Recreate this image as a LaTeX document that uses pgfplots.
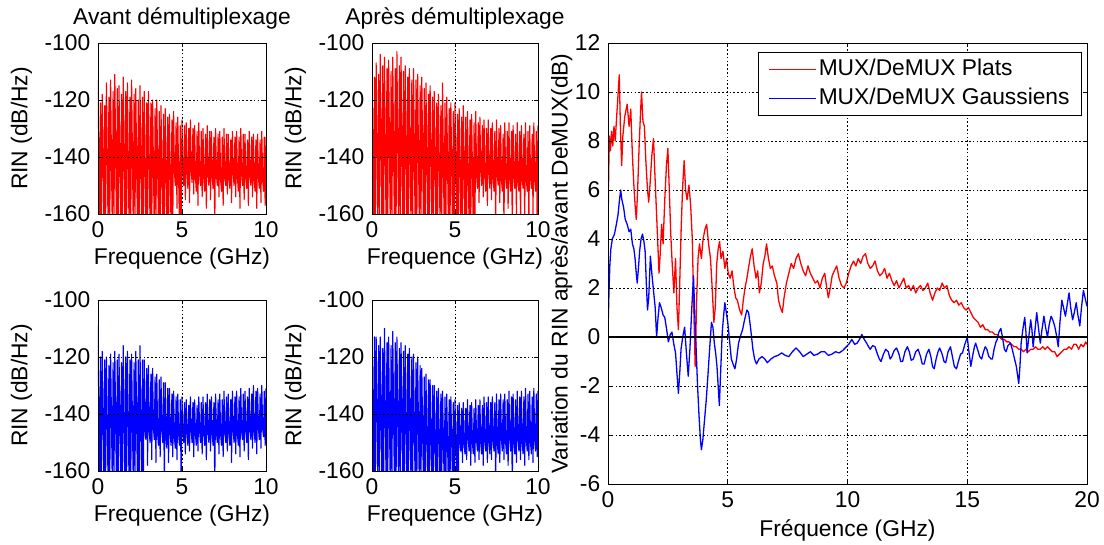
\documentclass[border=0pt]{standalone}
\usepackage{fontspec}
\setmainfont{Liberation Sans}
\usepackage{pgfplots}
\usepackage{pgfplotstable}
\pgfplotsset{compat=1.18}

% ---- small spectra: one value every 0.05 GHz (0 .. 10 GHz) ----
\pgfplotstableread[row sep=\\, header=false]{
-113\\ -138\\ -165\\ -121\\ -165\\
-118\\ -140\\ -165\\ -122\\ -165\\
-114\\ -139\\ -165\\ -119\\ -165\\
-113\\ -141\\ -165\\ -117\\ -165\\
-111\\ -138\\ -165\\ -116\\ -165\\
-115\\ -140\\ -165\\ -118\\ -165\\
-112\\ -139\\ -165\\ -117\\ -165\\
-114\\ -142\\ -165\\ -119\\ -165\\
-113\\ -140\\ -165\\ -118\\ -165\\
-116\\ -143\\ -165\\ -120\\ -165\\
-115\\ -141\\ -165\\ -119\\ -165\\
-117\\ -144\\ -165\\ -121\\ -165\\
-117\\ -142\\ -165\\ -121\\ -165\\
-120\\ -144\\ -165\\ -123\\ -165\\
-120\\ -143\\ -165\\ -124\\ -165\\
-122\\ -145\\ -165\\ -125\\ -165\\
-123\\ -144\\ -165\\ -126\\ -165\\
-125\\ -146\\ -165\\ -127\\ -165\\
-124\\ -145\\ -150\\ -128\\ -158\\
-126\\ -147\\ -165\\ -129\\ -165\\
-127\\ -145\\ -150\\ -129\\ -155\\
-128\\ -146\\ -151\\ -130\\ -156\\
-127\\ -145\\ -149\\ -130\\ -153\\
-129\\ -147\\ -152\\ -131\\ -157\\
-128\\ -146\\ -150\\ -131\\ -154\\
-130\\ -148\\ -152\\ -132\\ -158\\
-129\\ -146\\ -150\\ -131\\ -155\\
-131\\ -147\\ -151\\ -133\\ -165\\
-130\\ -146\\ -150\\ -132\\ -154\\
-131\\ -148\\ -152\\ -133\\ -157\\
-130\\ -147\\ -150\\ -132\\ -153\\
-132\\ -148\\ -151\\ -134\\ -156\\
-131\\ -146\\ -150\\ -133\\ -154\\
-131\\ -147\\ -152\\ -133\\ -158\\
-130\\ -146\\ -150\\ -132\\ -155\\
-132\\ -148\\ -151\\ -134\\ -157\\
-131\\ -147\\ -150\\ -133\\ -154\\
-132\\ -148\\ -152\\ -134\\ -158\\
-132\\ -147\\ -151\\ -134\\ -156\\
-131\\ -148\\ -152\\ -133\\ -157\\
-133\\
}\TLdata

\pgfplotstableread[row sep=\\, header=false]{
-110\\ -135\\ -165\\ -112\\ -165\\
-107\\ -136\\ -165\\ -111\\ -165\\
-104\\ -134\\ -165\\ -108\\ -165\\
-105\\ -136\\ -165\\ -109\\ -165\\
-106\\ -135\\ -165\\ -110\\ -165\\
-105\\ -137\\ -165\\ -109\\ -165\\
-103\\ -135\\ -165\\ -108\\ -165\\
-105\\ -137\\ -165\\ -110\\ -165\\
-108\\ -136\\ -165\\ -112\\ -165\\
-109\\ -138\\ -165\\ -113\\ -165\\
-109\\ -137\\ -165\\ -113\\ -165\\
-111\\ -139\\ -165\\ -115\\ -165\\
-112\\ -138\\ -165\\ -116\\ -165\\
-114\\ -140\\ -165\\ -118\\ -165\\
-115\\ -139\\ -165\\ -119\\ -165\\
-117\\ -141\\ -165\\ -121\\ -165\\
-118\\ -140\\ -165\\ -122\\ -165\\
-114\\ -142\\ -165\\ -121\\ -165\\
-119\\ -141\\ -165\\ -123\\ -165\\
-121\\ -143\\ -165\\ -124\\ -165\\
-121\\ -142\\ -165\\ -125\\ -165\\
-123\\ -144\\ -165\\ -126\\ -165\\
-122\\ -143\\ -165\\ -126\\ -165\\
-124\\ -145\\ -165\\ -127\\ -165\\
-125\\ -144\\ -165\\ -128\\ -165\\
-124\\ -146\\ -151\\ -128\\ -156\\
-126\\ -145\\ -150\\ -129\\ -154\\
-127\\ -147\\ -152\\ -130\\ -157\\
-127\\ -146\\ -151\\ -130\\ -155\\
-128\\ -147\\ -152\\ -131\\ -165\\
-127\\ -146\\ -150\\ -130\\ -156\\
-129\\ -148\\ -152\\ -132\\ -165\\
-128\\ -147\\ -151\\ -131\\ -158\\
-128\\ -148\\ -152\\ -131\\ -165\\
-129\\ -147\\ -151\\ -132\\ -160\\
-128\\ -148\\ -152\\ -131\\ -165\\
-129\\ -147\\ -151\\ -132\\ -162\\
-128\\ -148\\ -152\\ -131\\ -165\\
-129\\ -147\\ -151\\ -132\\ -160\\
-128\\ -148\\ -152\\ -131\\ -165\\
-129\\
}\TRdata

\pgfplotstableread[row sep=\\, header=false]{
-109\\ -140\\ -165\\ -120\\ -165\\
-118\\ -141\\ -165\\ -121\\ -165\\
-120\\ -142\\ -165\\ -123\\ -165\\
-119\\ -141\\ -165\\ -122\\ -165\\
-118\\ -142\\ -165\\ -121\\ -165\\
-119\\ -141\\ -165\\ -122\\ -165\\
-116\\ -143\\ -165\\ -120\\ -165\\
-118\\ -142\\ -165\\ -121\\ -165\\
-119\\ -143\\ -165\\ -122\\ -165\\
-118\\ -142\\ -165\\ -121\\ -165\\
-116\\ -144\\ -165\\ -121\\ -165\\
-121\\ -145\\ -149\\ -124\\ -158\\
-123\\ -146\\ -150\\ -126\\ -156\\
-124\\ -145\\ -149\\ -127\\ -157\\
-126\\ -147\\ -151\\ -128\\ -155\\
-127\\ -146\\ -150\\ -129\\ -165\\
-129\\ -148\\ -152\\ -131\\ -157\\
-131\\ -147\\ -151\\ -133\\ -155\\
-132\\ -148\\ -152\\ -134\\ -156\\
-133\\ -147\\ -151\\ -135\\ -165\\
-134\\ -146\\ -150\\ -136\\ -154\\
-135\\ -147\\ -151\\ -137\\ -153\\
-134\\ -146\\ -150\\ -136\\ -155\\
-135\\ -147\\ -151\\ -137\\ -153\\
-134\\ -146\\ -150\\ -136\\ -154\\
-134\\ -147\\ -151\\ -136\\ -156\\
-133\\ -146\\ -150\\ -135\\ -153\\
-134\\ -147\\ -151\\ -136\\ -165\\
-133\\ -146\\ -150\\ -135\\ -154\\
-133\\ -147\\ -151\\ -135\\ -155\\
-132\\ -146\\ -150\\ -134\\ -153\\
-133\\ -147\\ -151\\ -135\\ -157\\
-132\\ -146\\ -150\\ -134\\ -154\\
-132\\ -147\\ -151\\ -134\\ -155\\
-131\\ -146\\ -149\\ -133\\ -153\\
-132\\ -146\\ -150\\ -134\\ -156\\
-131\\ -145\\ -149\\ -133\\ -152\\
-130\\ -146\\ -150\\ -132\\ -154\\
-131\\ -145\\ -149\\ -133\\ -152\\
-130\\ -145\\ -148\\ -132\\ -151\\
-131\\
}\BLdata

\pgfplotstableread[row sep=\\, header=false]{
-103\\ -138\\ -165\\ -113\\ -165\\
-113\\ -139\\ -165\\ -116\\ -165\\
-113\\ -140\\ -165\\ -117\\ -165\\
-110\\ -139\\ -165\\ -115\\ -165\\
-113\\ -141\\ -165\\ -116\\ -165\\
-111\\ -140\\ -165\\ -115\\ -165\\
-113\\ -142\\ -165\\ -117\\ -165\\
-115\\ -141\\ -165\\ -118\\ -165\\
-116\\ -143\\ -165\\ -119\\ -165\\
-117\\ -142\\ -165\\ -120\\ -165\\
-119\\ -144\\ -165\\ -122\\ -165\\
-120\\ -145\\ -165\\ -123\\ -165\\
-124\\ -146\\ -165\\ -127\\ -165\\
-126\\ -147\\ -165\\ -128\\ -165\\
-128\\ -148\\ -165\\ -130\\ -165\\
-130\\ -149\\ -165\\ -132\\ -165\\
-131\\ -148\\ -165\\ -133\\ -165\\
-132\\ -149\\ -165\\ -134\\ -165\\
-133\\ -150\\ -165\\ -135\\ -165\\
-134\\ -149\\ -165\\ -136\\ -165\\
-135\\ -150\\ -165\\ -137\\ -165\\
-136\\ -149\\ -153\\ -138\\ -157\\
-136\\ -150\\ -154\\ -138\\ -156\\
-135\\ -149\\ -153\\ -137\\ -158\\
-136\\ -150\\ -154\\ -138\\ -157\\
-135\\ -149\\ -153\\ -137\\ -156\\
-135\\ -150\\ -154\\ -137\\ -158\\
-134\\ -149\\ -153\\ -136\\ -157\\
-134\\ -150\\ -154\\ -136\\ -156\\
-134\\ -149\\ -153\\ -136\\ -165\\
-133\\ -150\\ -154\\ -135\\ -157\\
-133\\ -149\\ -153\\ -135\\ -156\\
-133\\ -150\\ -154\\ -135\\ -158\\
-132\\ -149\\ -153\\ -134\\ -165\\
-133\\ -150\\ -154\\ -135\\ -157\\
-132\\ -149\\ -153\\ -134\\ -156\\
-132\\ -150\\ -154\\ -134\\ -158\\
-131\\ -149\\ -153\\ -133\\ -156\\
-132\\ -150\\ -154\\ -134\\ -157\\
-131\\ -149\\ -153\\ -133\\ -155\\
-132\\
}\BRdata

\pgfplotsset{
  matlabgrid/.style={
    grid=major,
    major grid style={black, line width=0.6pt, dash pattern=on 1.6pt off 2.2pt},
    tick align=inside, major tick length=4pt,
    tick style={black, line width=0.6pt},
    axis line style={black, line width=0.8pt},
    axis on top,
    clip=true,
  },
  smallax/.style={
    matlabgrid,
    scale only axis, width=168pt, height=171pt,
    xmin=0, xmax=10, ymin=-160, ymax=-100,
    xtick={0,5,10}, xticklabels={0,5,10},
    ytick={-160,-140,-120,-100}, yticklabels={-160,-140,-120,-100},
    xlabel={Frequence (GHz)}, ylabel={RIN (dB/Hz)},
    xlabel style={yshift=5pt},
    ylabel style={yshift=-3pt},
    title style={yshift=0pt},
  },
}

\begin{document}
\fontsize{22.8}{27}\selectfont
\begin{tikzpicture}
\useasboundingbox (0pt,0pt) rectangle (1104pt,544pt);

% top left
\begin{axis}[smallax, at={(98pt,330pt)}, anchor=south west, title={Avant démultiplexage}]
\addplot[red, line width=1.15pt, line join=round] table[x expr=\coordindex*0.05, y index=0] {\TLdata};
\end{axis}

% top right
\begin{axis}[smallax, width=166pt, at={(372pt,330pt)}, anchor=south west, title={Après démultiplexage}]
\addplot[red, line width=1.15pt, line join=round] table[x expr=\coordindex*0.05, y index=0] {\TRdata};
\end{axis}

% bottom left
\begin{axis}[smallax, at={(98pt,73pt)}, anchor=south west]
\addplot[blue, line width=1.15pt, line join=round] table[x expr=\coordindex*0.05, y index=0] {\BLdata};
\end{axis}

% bottom right
\begin{axis}[smallax, width=166pt, at={(372pt,73pt)}, anchor=south west]
\addplot[blue, line width=1.15pt, line join=round] table[x expr=\coordindex*0.05, y index=0] {\BRdata};
\end{axis}

% big axis
\begin{axis}[matlabgrid,
  scale only axis, width=479pt, height=441pt,
  at={(608pt,60pt)}, anchor=south west,
  xmin=0, xmax=20, ymin=-6, ymax=12,
  xtick={0,5,10,15,20}, xticklabels={0,5,10,15,20},
  ytick={-6,-4,-2,0,2,4,6,8,10,12}, yticklabels={-6,-4,-2,0,2,4,6,8,10,12},
  xlabel={Fréquence (GHz)},
  xlabel style={yshift=4pt},
  ylabel={Variation du RIN après/avant DeMUX(dB)},
  ylabel shift=-13pt,
  legend style={at={(0.9896,0.9796)}, anchor=north east, draw=black, line width=0.8pt,
    fill=white, inner xsep=10pt, inner ysep=5pt, row sep=5pt,
    nodes={inner sep=2pt}},
  legend cell align=left,
  legend image code/.code={\draw[#1] (0pt,0pt) -- (47pt,0pt);},
]
\addplot[red, line width=1.3pt, line join=round] coordinates {
(0,4.2) (0.03,6.8) (0.06,8.2) (0.1,7.6) (0.15,8.4) (0.2,7.8) (0.25,8.6) (0.3,8.0) (0.35,8.8) (0.4,9.6)
(0.47,10.7) (0.52,8.5) (0.57,7.0) (0.62,8.2) (0.7,9.0) (0.8,9.5) (0.88,8.6) (0.95,9.3) (1.02,7.4) (1.08,6.2)
(1.13,5.4) (1.18,4.8) (1.23,5.8) (1.3,7.8) (1.36,9.2) (1.4,10.0) (1.46,8.8) (1.52,8.6) (1.58,7.2) (1.65,6.0)
(1.7,5.5) (1.76,6.3) (1.83,7.4) (1.9,8.1) (1.96,6.6) (2.02,5.2) (2.08,3.8) (2.13,2.6) (2.18,3.4) (2.24,4.6)
(2.3,3.8) (2.37,5.6) (2.44,7.0) (2.5,7.7) (2.56,6.0) (2.62,4.2) (2.68,3.0) (2.75,1.8) (2.82,3.2) (2.88,1.2)
(2.94,0.3) (3.0,2.4) (3.06,4.6) (3.12,6.2) (3.18,7.2) (3.24,6.0) (3.3,5.6) (3.38,6.2) (3.45,5.4) (3.52,4.0)
(3.58,1.2) (3.64,-1.2) (3.7,1.5) (3.76,3.2) (3.82,3.8) (3.9,3.2) (3.97,4.0) (4.05,4.4) (4.12,4.6) (4.2,3.8)
(4.28,3.2) (4.35,2.0) (4.42,0.6) (4.48,1.2) (4.54,3.0) (4.6,3.6) (4.66,3.9) (4.72,3.2) (4.8,3.5) (4.88,2.8)
(4.95,3.2) (5.02,2.6) (5.1,2.4) (5.18,2.7) (5.25,2.1) (5.33,1.6) (5.4,1.5) (5.5,1.1) (5.58,0.9) (5.65,1.5)
(5.72,2.0) (5.8,2.4) (5.88,2.9) (5.95,3.3) (6.02,3.6) (6.1,2.9) (6.18,2.4) (6.25,2.7) (6.32,1.8) (6.4,2.2)
(6.48,3.0) (6.55,3.3) (6.62,3.8) (6.7,3.2) (6.78,2.8) (6.86,2.9) (6.95,2.5) (7.05,2.2) (7.12,1.5) (7.2,1.2)
(7.28,1.0) (7.35,1.6) (7.45,2.2) (7.55,2.6) (7.65,3.0) (7.75,2.8) (7.85,3.2) (7.95,3.4) (8.05,3.0) (8.15,2.7)
(8.25,2.5) (8.35,2.9) (8.45,2.6) (8.55,2.4) (8.65,2.2) (8.75,2.3) (8.85,2.0) (8.95,2.4) (9.05,2.6) (9.12,2.1)
(9.2,1.6) (9.28,2.0) (9.36,2.5) (9.45,2.7) (9.55,2.9) (9.65,2.4) (9.75,2.1) (9.85,2.0) (9.95,2.2) (10.05,2.6)
(10.15,2.9) (10.25,3.1) (10.35,2.9) (10.45,3.2) (10.55,3.0) (10.65,3.3) (10.75,3.4) (10.85,3.0) (10.95,2.8) (11.05,2.9)
(11.15,3.1) (11.25,2.7) (11.35,2.5) (11.45,2.6) (11.55,2.8) (11.65,2.4) (11.75,2.6) (11.85,2.3) (11.95,2.1) (12.05,2.3)
(12.15,2.0) (12.25,2.2) (12.35,2.4) (12.45,2.0) (12.55,2.1) (12.65,1.9) (12.75,2.1) (12.85,1.8) (12.95,2.0) (13.05,2.1)
(13.15,1.9) (13.25,2.0) (13.35,2.2) (13.45,1.8) (13.55,1.5) (13.65,1.8) (13.75,2.0) (13.85,1.9) (13.95,2.2) (14.05,2.0)
(14.15,2.1) (14.25,1.7) (14.35,1.5) (14.45,1.4) (14.55,1.5) (14.65,1.3) (14.75,1.4) (14.85,1.2) (14.95,1.1) (15.05,1.2)
(15.15,1.0) (15.25,0.8) (15.35,0.7) (15.45,0.6) (15.55,0.4) (15.65,0.5) (15.75,0.3) (15.85,0.3) (15.95,0.2) (16.05,0.2)
(16.15,0.1) (16.25,0.1) (16.35,0.0) (16.45,-0.1) (16.55,-0.1) (16.65,-0.2) (16.75,-0.2) (16.85,-0.3) (16.95,-0.4) (17.05,-0.4)
(17.15,-0.5) (17.25,-0.5) (17.35,-0.6) (17.45,-0.5) (17.55,-0.6) (17.65,-0.5) (17.75,-0.5) (17.85,-0.4) (17.95,-0.5) (18.05,-0.5)
(18.15,-0.4) (18.25,-0.5) (18.35,-0.4) (18.45,-0.5) (18.55,-0.6) (18.65,-0.6) (18.75,-0.8) (18.85,-0.7) (18.95,-0.6) (19.05,-0.5)
(19.15,-0.5) (19.25,-0.4) (19.35,-0.5) (19.45,-0.3) (19.55,-0.3) (19.65,-0.5) (19.75,-0.3) (19.85,-0.4) (19.95,-0.2) (20,-0.3)
};
\addlegendentry{MUX/DeMUX Plats}
\addplot[blue, line width=1.3pt, line join=round] coordinates {
(0,0.2) (0.04,1.8) (0.08,3.0) (0.12,3.6) (0.18,4.0) (0.27,4.2) (0.35,4.6) (0.42,5.0) (0.48,5.6) (0.53,6.0)
(0.58,5.6) (0.65,5.3) (0.72,4.8) (0.8,4.6) (0.88,4.3) (0.95,4.4) (1.02,3.8) (1.08,3.6) (1.13,3.2) (1.18,2.6)
(1.22,2.2) (1.27,2.8) (1.32,3.5) (1.38,4.0) (1.44,4.2) (1.5,3.9) (1.55,3.5) (1.6,2.2) (1.65,1.1) (1.7,1.6)
(1.77,3.3) (1.83,2.6) (1.9,1.9) (1.97,1.2) (2.03,0.0) (2.09,0.8) (2.15,1.4) (2.22,1.2) (2.3,0.9) (2.37,0.8)
(2.45,0.3) (2.52,-0.2) (2.6,0.1) (2.67,0.2) (2.75,-0.3) (2.82,-0.65) (2.88,-1.5) (2.94,-2.3) (3.0,-1.4) (3.05,-0.5)
(3.12,0.0) (3.2,0.4) (3.27,-0.6) (3.35,-1.6) (3.42,-0.5) (3.5,1.2) (3.57,2.5) (3.62,1.0) (3.68,-0.5) (3.74,-2.0)
(3.8,-3.2) (3.86,-4.2) (3.9,-4.6) (3.96,-4.2) (4.02,-3.5) (4.1,-2.6) (4.17,-1.6) (4.25,-0.4) (4.32,0.6) (4.38,0.4)
(4.44,-0.25) (4.5,-0.7) (4.55,-1.2) (4.6,-2.0) (4.65,-2.8) (4.7,-1.5) (4.77,0.2) (4.83,0.9) (4.88,1.4) (4.94,1.0)
(5.0,0.6) (5.08,-0.2) (5.15,-0.9) (5.22,-1.1) (5.3,-1.3) (5.37,-0.9) (5.45,-0.25) (5.55,0.1) (5.62,0.3) (5.68,0.6)
(5.75,0.9) (5.8,1.1) (5.87,1.0) (5.95,0.4) (6.05,-0.5) (6.12,-0.9) (6.2,-1.1) (6.3,-0.9) (6.43,-0.8) (6.55,-0.9)
(6.65,-1.05) (6.8,-0.9) (6.95,-0.8) (7.1,-0.75) (7.25,-0.65) (7.4,-0.75) (7.55,-0.8) (7.7,-0.6) (7.85,-0.45) (8.0,-0.6)
(8.15,-0.8) (8.3,-0.7) (8.45,-0.6) (8.6,-0.75) (8.75,-0.7) (8.9,-0.6) (9.05,-0.6) (9.2,-0.75) (9.35,-0.7) (9.5,-0.6)
(9.65,-0.65) (9.8,-0.55) (9.95,-0.4) (10.05,-0.3) (10.18,-0.1) (10.3,-0.3) (10.4,-0.25) (10.5,-0.1) (10.6,0.1) (10.7,-0.1)
(10.8,-0.25) (10.88,-0.4) (10.95,-0.5) (11.05,-0.35) (11.15,-0.4) (11.25,-0.7) (11.33,-0.9) (11.4,-1.0) (11.5,-0.7) (11.6,-0.5)
(11.7,-0.6) (11.78,-0.9) (11.85,-0.8) (11.95,-0.55) (12.05,-0.45) (12.15,-0.7) (12.22,-1.0) (12.3,-1.0) (12.4,-0.6) (12.5,-0.4)
(12.58,-0.6) (12.66,-0.95) (12.75,-0.9) (12.85,-0.6) (12.95,-0.5) (13.05,-0.8) (13.12,-1.1) (13.2,-1.1) (13.3,-0.7) (13.4,-0.5)
(13.48,-0.8) (13.55,-1.2) (13.62,-1.3) (13.7,-0.9) (13.78,-0.6) (13.85,-0.45) (13.95,-0.7) (14.03,-1.0) (14.1,-1.05) (14.2,-0.6)
(14.3,-0.4) (14.38,-0.8) (14.46,-1.2) (14.55,-1.3) (14.63,-1.0) (14.72,-0.7) (14.8,-0.65) (14.9,-0.3) (15.0,0.0) (15.07,-0.6)
(15.15,-1.2) (15.22,-0.8) (15.3,-0.4) (15.35,-0.25) (15.43,-0.5) (15.52,-0.8) (15.6,-0.9) (15.68,-0.6) (15.75,-0.4) (15.82,-0.5)
(15.9,-0.8) (16.0,-0.9) (16.05,-0.9) (16.12,-0.5) (16.2,-0.2) (16.25,-0.1) (16.32,0.2) (16.4,0.35) (16.47,0.0) (16.55,-0.5)
(16.62,-0.6) (16.7,-0.35) (16.8,-0.25) (16.88,-0.5) (16.95,-0.8) (17.05,-1.2) (17.12,-1.7) (17.15,-1.9) (17.2,-1.2) (17.25,-0.25)
(17.32,0.3) (17.4,0.8) (17.45,0.2) (17.5,-0.65) (17.57,0.0) (17.65,0.7) (17.7,0.3) (17.75,-0.4) (17.82,0.2) (17.9,1.0)
(17.97,0.4) (18.05,-0.25) (18.12,0.3) (18.2,0.85) (18.27,0.4) (18.35,0.0) (18.42,0.5) (18.5,0.85) (18.57,0.7) (18.65,0.45)
(18.72,0.1) (18.8,-0.4) (18.87,0.6) (18.95,1.5) (19.02,1.2) (19.1,0.85) (19.17,1.3) (19.25,1.8) (19.32,1.2) (19.4,0.7)
(19.47,1.0) (19.55,1.4) (19.62,0.9) (19.7,0.45) (19.77,1.2) (19.85,1.9) (19.92,1.6) (20,1.25)
};
\addlegendentry{MUX/DeMUX Gaussiens}
\addplot[black, line width=1.5pt, forget plot] coordinates {(0,0) (20,0)};
\end{axis}
\end{tikzpicture}
\end{document}
